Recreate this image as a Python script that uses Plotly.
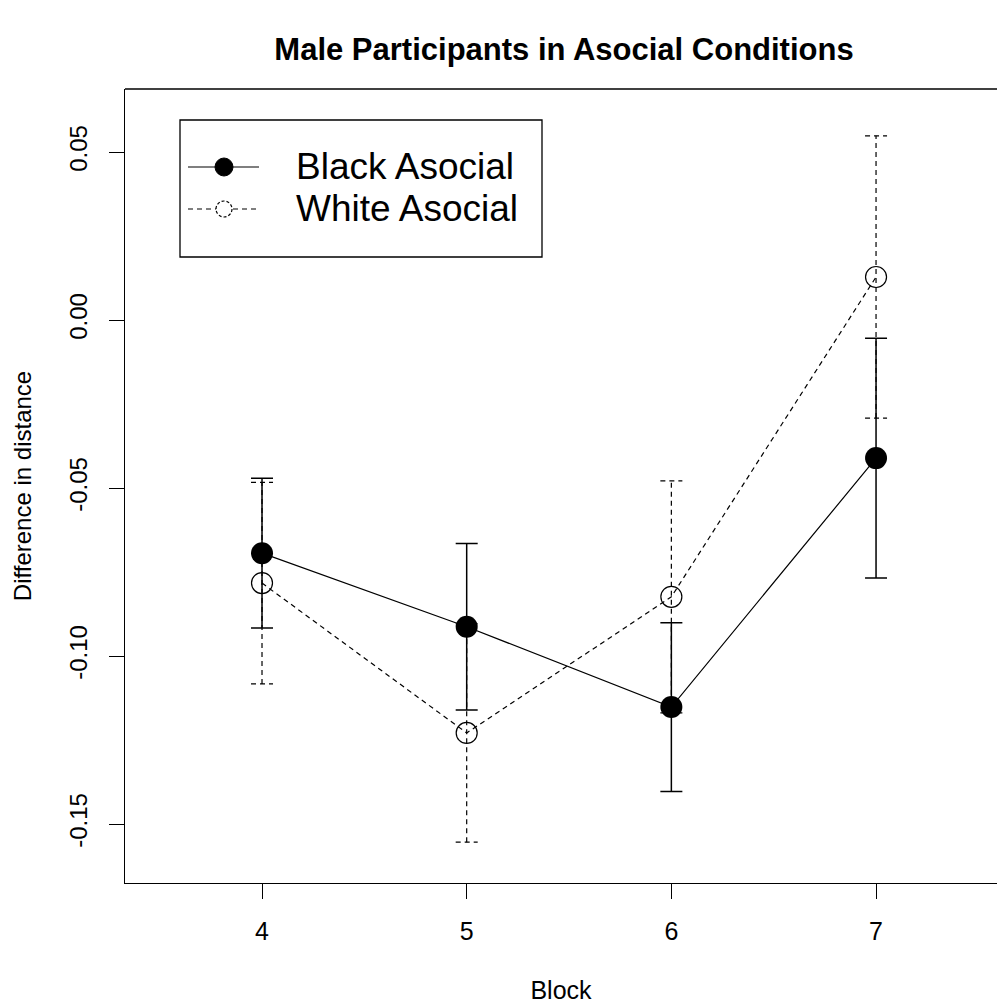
import plotly.graph_objects as go

# ---- data ----
blocks = [4, 5, 6, 7]
black_mean = [-0.0694, -0.0913, -0.1152, -0.0411]
black_se = [0.0223, 0.0248, 0.0251, 0.0357]
white_mean = [-0.0783, -0.1229, -0.0824, 0.0128]
white_se = [0.0300, 0.0325, 0.0345, 0.0420]
y_ticks = [-0.15, -0.10, -0.05, 0.00, 0.05]
y_tick_text = ["-0.15", "-0.10", "-0.05", "0.00", "0.05"]
series_names = ["Black Asocial", "White Asocial"]

# ---- layout geometry ----
W, H = 997, 1007
L, R, T, B = 125, 0, 89, 124
PW, PH = W - L - R, H - T - B
x_range = [3.3306, 7.591]
y_range = [-0.16756, 0.06875]
FONT = "Liberation Sans"
px_per_x = PW / (x_range[1] - x_range[0])
cap_half = 11 / px_per_x  # cap half-width in data units

fig = go.Figure()

# White series dashed error bars (built from data)
ex, ey = [], []
for b, m, s in zip(blocks, white_mean, white_se):
    lo, hi = m - s, m + s
    ex += [b, b, None, b - cap_half, b + cap_half, None, b - cap_half, b + cap_half, None]
    ey += [lo, hi, None, hi, hi, None, lo, lo, None]
fig.add_trace(go.Scatter(x=ex, y=ey, mode="lines", showlegend=False, hoverinfo="skip",
                         line=dict(color="black", width=1.2, dash="5px,4px")))

# White series line + open markers
fig.add_trace(go.Scatter(x=blocks, y=white_mean, mode="lines+markers", name=series_names[1],
                         showlegend=False,
                         line=dict(color="black", width=1.2, dash="5px,4px"),
                         marker=dict(symbol="circle-open", size=21, color="black",
                                     line=dict(width=1.2, color="black"))))

# Black series with solid error bars
fig.add_trace(go.Scatter(x=blocks, y=black_mean, mode="lines+markers", name=series_names[0],
                         showlegend=False,
                         line=dict(color="black", width=1.2),
                         marker=dict(symbol="circle", size=22, color="black"),
                         error_y=dict(type="data", array=black_se, visible=True,
                                      color="black", thickness=1.5, width=11)))

# ---- helpers for pixel -> paper ----
def px(xp):
    return (xp - L) / PW

def py(yp):
    return (H - B - yp) / PH

shapes = []
# top border of the plot box
shapes.append(dict(type="line", xref="paper", yref="paper", x0=0, x1=1, y0=1, y1=1,
                   line=dict(color="black", width=1.3)))
# legend box
shapes.append(dict(type="rect", xref="paper", yref="paper", x0=px(180), x1=px(542),
                   y0=py(257), y1=py(120), line=dict(color="black", width=1.3),
                   fillcolor="white", layer="below"))
# legend samples
rows = [167, 209]
shapes.append(dict(type="line", xref="paper", yref="paper", x0=px(188), x1=px(259),
                   y0=py(rows[0]), y1=py(rows[0]), line=dict(color="black", width=1.2)))
shapes.append(dict(type="circle", xref="paper", yref="paper", x0=px(224 - 9), x1=px(224 + 9),
                   y0=py(rows[0] + 9), y1=py(rows[0] - 9), fillcolor="black",
                   line=dict(color="black", width=1)))
shapes.append(dict(type="line", xref="paper", yref="paper", x0=px(188), x1=px(259),
                   y0=py(rows[1]), y1=py(rows[1]),
                   line=dict(color="black", width=1.2, dash="5px,4px")))
shapes.append(dict(type="circle", xref="paper", yref="paper", x0=px(224 - 8), x1=px(224 + 8),
                   y0=py(rows[1] + 8), y1=py(rows[1] - 8), fillcolor="white",
                   line=dict(color="black", width=1.2, dash="3px,2px")))

annotations = []
for name, r in zip(series_names, rows):
    annotations.append(dict(text=name, xref="paper", yref="paper", x=px(294), y=py(r),
                            xanchor="left", yanchor="middle", showarrow=False,
                            font=dict(family=FONT, size=37, color="black")))

fig.update_layout(
    width=W, height=H,
    margin=dict(l=L, r=R, t=T, b=B),
    paper_bgcolor="white", plot_bgcolor="white",
    font=dict(family=FONT, color="black"),
    title=dict(text="Male Participants in Asocial Conditions",
               x=564 / W, xanchor="center", y=1 - 49 / H, yanchor="middle",
               font=dict(family=FONT, size=31, color="black", weight="bold")),
    shapes=shapes, annotations=annotations,
    xaxis=dict(range=x_range, tickvals=blocks, ticktext=[str(b) for b in blocks],
               showgrid=False, zeroline=False, showline=True, linecolor="black", linewidth=1.3,
               ticks="outside", ticklen=15, tickwidth=1.3, tickcolor="black",
               tickfont=dict(family=FONT, size=25, color="black"), ticklabelstandoff=11,
               title=dict(text="Block", font=dict(family=FONT, size=25, color="black"), standoff=37)),
    yaxis=dict(range=y_range, tickvals=y_ticks, ticktext=y_tick_text, tickangle=-90,
               showgrid=False, zeroline=False, showline=True, linecolor="black", linewidth=1.3,
               ticks="outside", ticklen=15, tickwidth=1.3, tickcolor="black",
               tickfont=dict(family=FONT, size=24, color="black"), ticklabelstandoff=12,
               title=dict(text="Difference in distance", font=dict(family=FONT, size=24, color="black"),
                          standoff=26)),
)

fig.write_html("out.html")
